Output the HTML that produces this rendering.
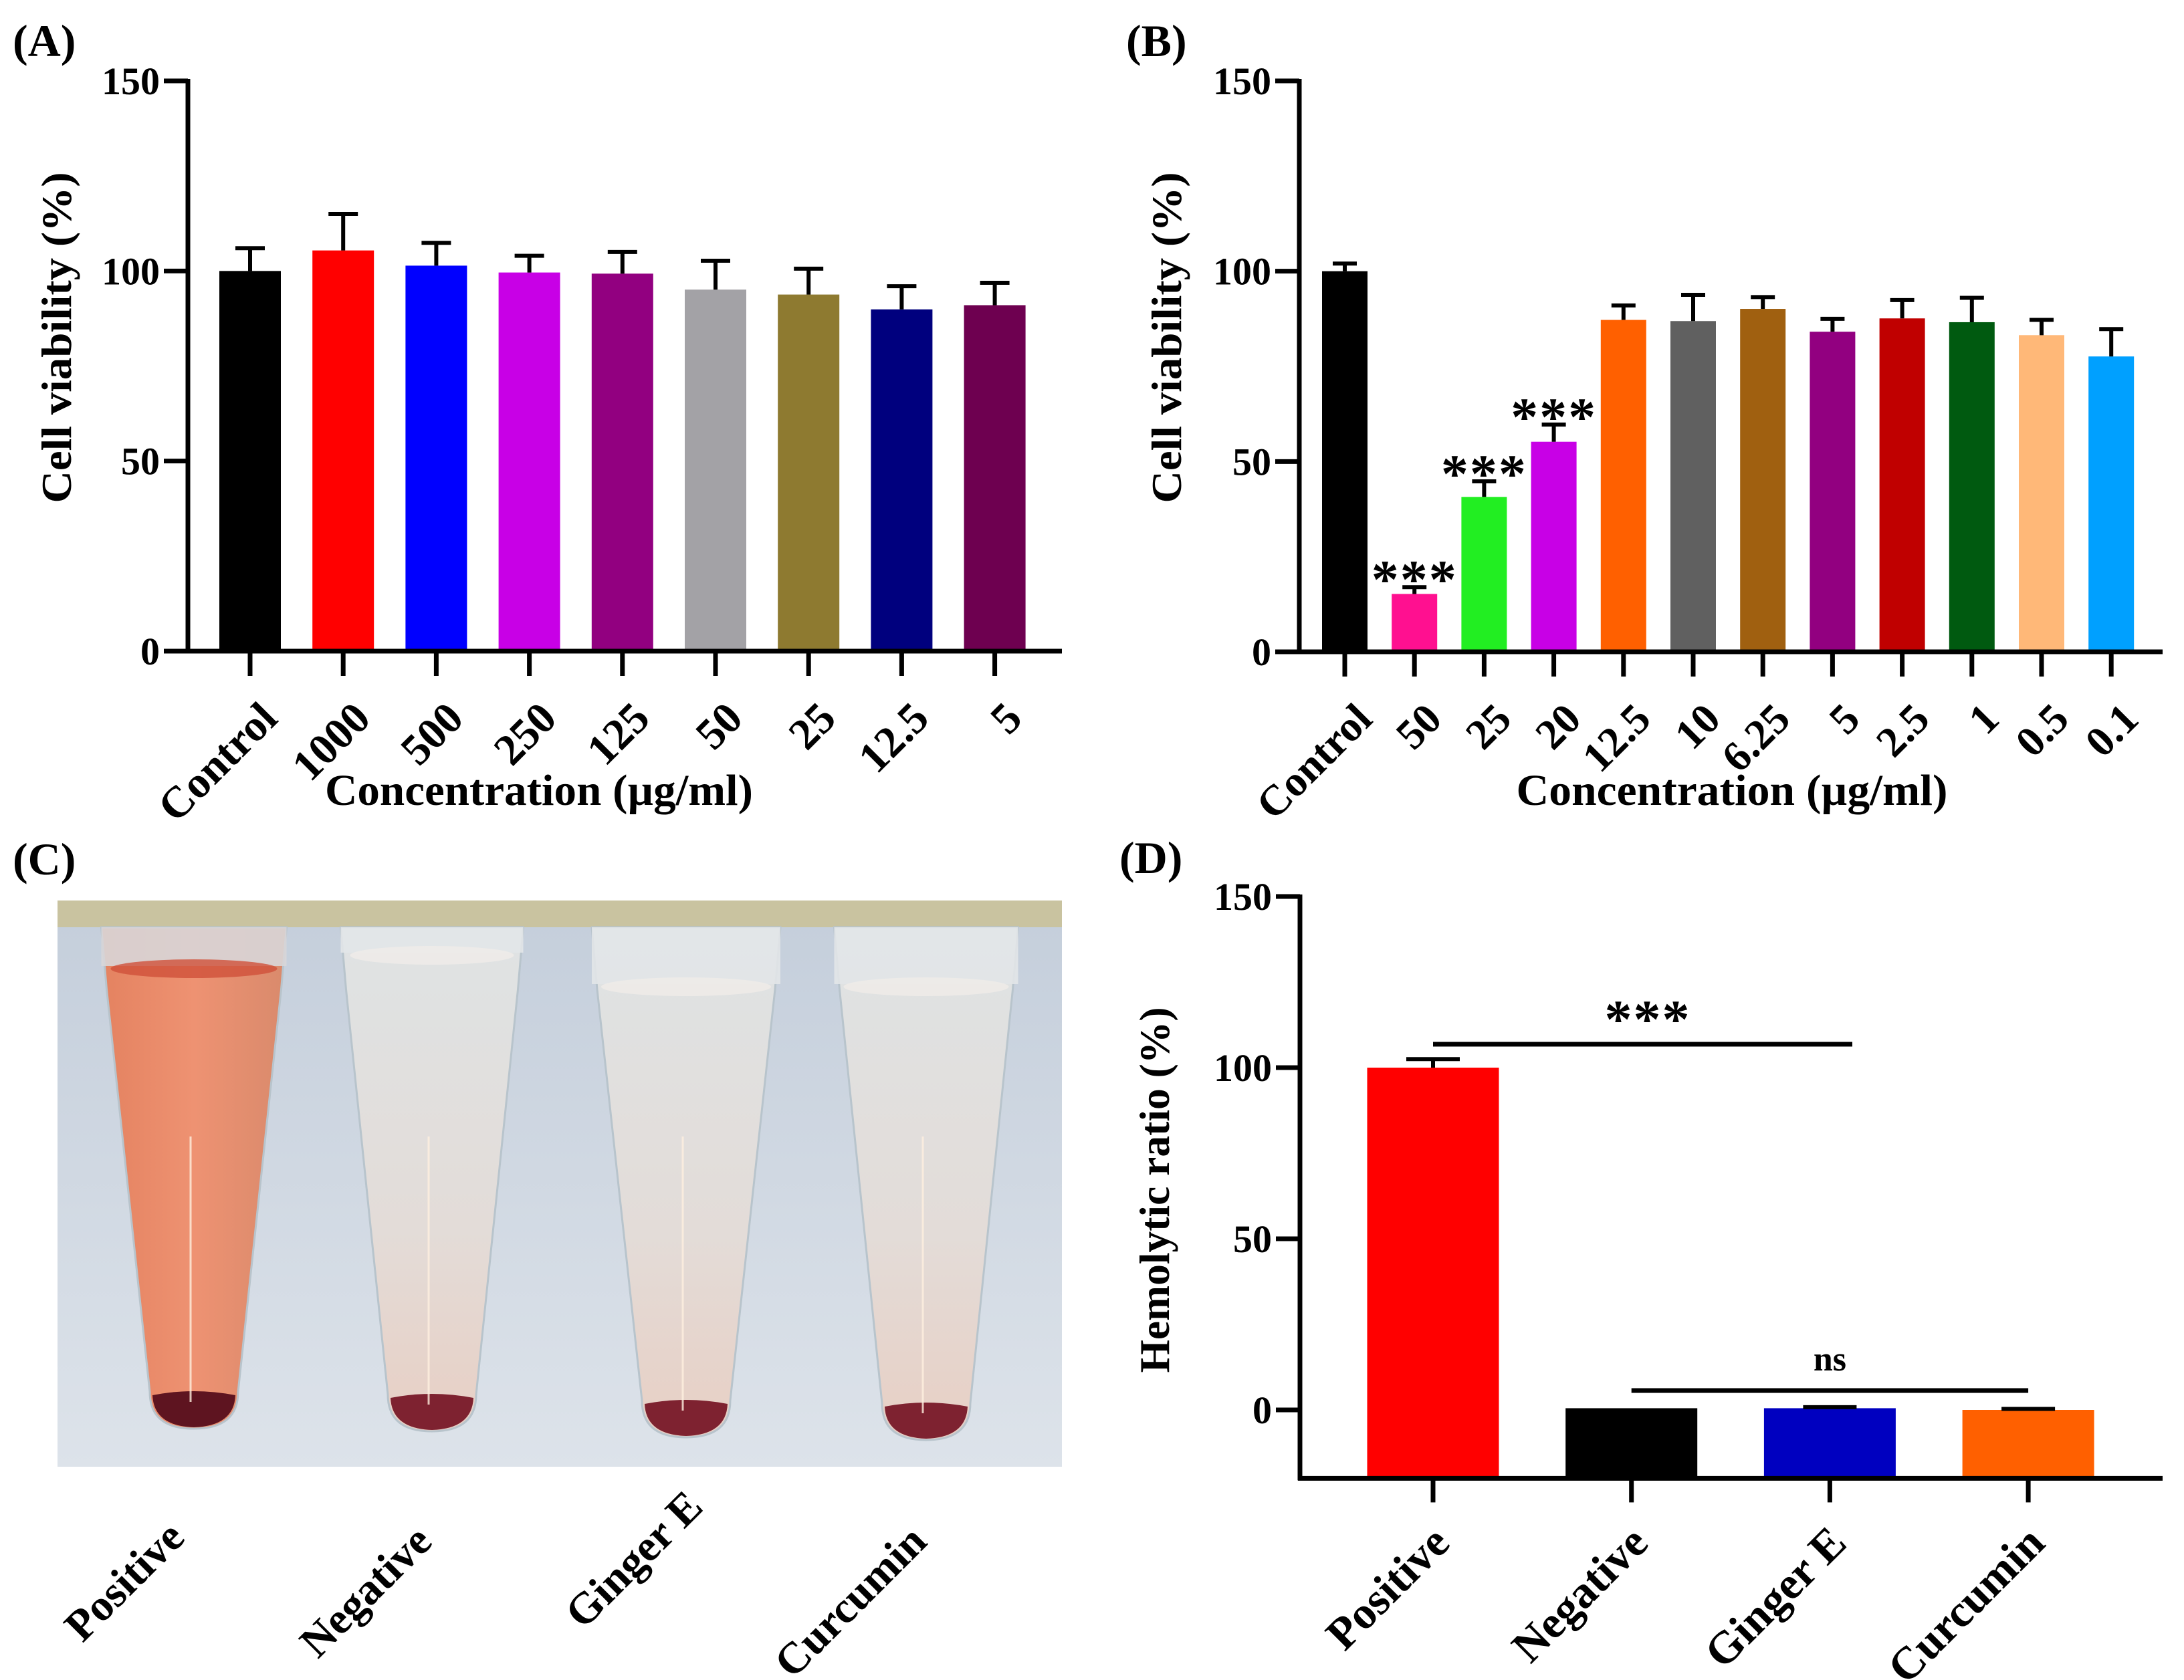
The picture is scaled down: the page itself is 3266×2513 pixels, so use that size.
<!DOCTYPE html>
<html><head><meta charset="utf-8"><style>
html,body{margin:0;padding:0;background:#fff}
svg{display:block}
text{font-family:"Liberation Serif",serif;font-weight:bold;fill:#000}
</style></head><body>
<svg id="fig" width="3266" height="2513" viewBox="0 0 3266 2513" xmlns="http://www.w3.org/2000/svg">
<defs>
<linearGradient id="bgGrad" x1="0" y1="0" x2="0" y2="1">
<stop offset="0" stop-color="#c4cedb"/><stop offset="1" stop-color="#dde3ea"/></linearGradient>
<linearGradient id="posGrad" x1="0" y1="0" x2="1" y2="0">
<stop offset="0" stop-color="#e48260"/><stop offset="0.5" stop-color="#ee9272"/><stop offset="1" stop-color="#d98a6c"/></linearGradient>
<linearGradient id="clearGrad" x1="0" y1="0" x2="0" y2="1">
<stop offset="0" stop-color="#dfe3e4"/><stop offset="0.6" stop-color="#e3dcd8"/><stop offset="1" stop-color="#e8cfc4"/></linearGradient>
</defs>
<g id="panelA"></g>
<g id="panelB"></g>
<g id="panelC"></g>
<g id="panelD"></g>
<text x="19" y="84" font-size="68">(A)</text>
<text x="1684" y="84" font-size="68">(B)</text>
<text x="19" y="1308" font-size="68">(C)</text>
<text x="1674" y="1306" font-size="68">(D)</text>
</svg>
<script>
// ---- Panel A data ----
const catsA = ["Control","1000","500","250","125","50","25","12.5","5"];
const valsA = [100,105.4,101.4,99.6,99.3,95.1,93.8,89.9,91];
const errA = [106,115,107.4,104,105,102.7,100.6,96,96.9];
const colorsA = ["#000000","#ff0000","#0000ff","#c800e6","#920080","#a3a2a6","#8e7a30","#00007e","#6e0050"];
// ---- Panel B data ----
const catsB = ["Control","50","25","20","12.5","10","6.25","5","2.5","1","0.5","0.1"];
const valsB = [100,15.2,40.7,55.2,87.2,86.9,90.1,84.1,87.6,86.6,83.2,77.6];
const errB = [102,17,44.8,59.7,91,93.8,93.2,87.5,92.4,93,87.2,84.8];
const sigB = ["","***","***","***","","","","","","","",""];
const colorsB = ["#000000","#ff1090","#22ee22","#c800e6","#ff6000","#606060","#a06010","#920080","#c00000","#005a10","#ffb878","#00a0ff"];
// ---- Panel D data ----
const catsD = ["Positive","Negative","Ginger E","Curcumin"];
const valsD = [100,0.5,0.5,0];
const errD = [102.5,0.5,0.8,0.3];
const colorsD = ["#ff0000","#000000","#0000c0","#ff6000"];
const ticksY = [0,50,100,150];
// ---- Panel C labels ----
const catsC = ["Positive","Negative","Ginger E","Curcumin"];

const NS="http://www.w3.org/2000/svg";
function mk(parent,tag,attrs,txt){const e=document.createElementNS(NS,tag);for(const k in attrs)e.setAttribute(k,attrs[k]);if(txt!==undefined)e.textContent=txt;parent.appendChild(e);return e;}

function chart(g,o){
  const yScale=v=>o.y0-(v-0)*(o.y0-o.y150)/150;
  const xScale=i=>o.cx0+i*o.step;
  const yBot=yScale(o.ymin);
  o.vals.forEach((v,i)=>{
    const base=o.fromFloor?yBot:yScale(0);
    const yt=yScale(v);
    const r=mk(g,"rect",{x:xScale(i)-o.bw/2,y:Math.min(yt,base),width:o.bw,height:Math.abs(base-yt),fill:o.colors[i]});
    
    
    const ye=yScale(o.errs[i]);
    if(o.errs[i]>v+0.2){
      const eb=mk(g,"path",{d:`M${xScale(i)},${yt} V${ye} M${xScale(i)-o.capw},${ye} H${xScale(i)+o.capw}`,stroke:"#000","stroke-width":6,fill:"none"});
      
      
    }
    if(o.sig&&o.sig[i]){
      const s=mk(g,"text",{x:xScale(i),y:ye+16,"font-size":82,"text-anchor":"middle","letter-spacing":"2"},o.sig[i]);
      
      
    }
    const tk=mk(g,"line",{x1:xScale(i),x2:xScale(i),y1:yBot,y2:yBot+o.tickLen,stroke:"#000","stroke-width":7});
    
    
    const lx=xScale(i)+o.lblDx, ly=yBot+o.lblDy;
    const t=mk(g,"text",{x:lx,y:ly,"font-size":o.lblSize,"text-anchor":"end",transform:`rotate(-45 ${lx} ${ly})`},o.cats[i]);
    
    
  });
  const ya=mk(g,"line",{x1:o.ax,x2:o.ax,y1:o.y150-3,y2:yBot+3,stroke:"#000","stroke-width":7});
  
  
  const xa=mk(g,"line",{x1:o.ax-3,x2:o.xEnd,y1:yBot,y2:yBot,stroke:"#000","stroke-width":7});
  
  
  ticksY.forEach(v=>{
    const y=yScale(v);
    const l=mk(g,"line",{x1:o.ax-36,x2:o.ax,y1:y,y2:y,stroke:"#000","stroke-width":7});
    
    
    const t=mk(g,"text",{x:o.ax-42,y:y+20,"font-size":58,"text-anchor":"end"},String(v));
    
    
  });
  const yl=mk(g,"text",{x:o.ylx,y:o.yly,"font-size":64,"text-anchor":"middle",transform:`rotate(-90 ${o.ylx} ${o.yly})`,textLength:o.ylLen,lengthAdjust:"spacingAndGlyphs"},o.ylabel);
  
  
  if(o.xlabel){
    const xl=mk(g,"text",{x:o.xlx,y:o.xly,"font-size":66,"text-anchor":"middle",textLength:o.xlLen,lengthAdjust:"spacingAndGlyphs"},o.xlabel);
    
    
  }
  return {xScale,yScale};
}

chart(document.getElementById('panelA'),{cats:catsA,vals:valsA,errs:errA,colors:colorsA,
  ax:281,y0:974,y150:121,ymin:0,cx0:374,step:139.2,bw:92,capw:22,xEnd:1588,tickLen:37,
  lblDx:44,lblDy:104,lblSize:66,ylx:106,yly:505,ylLen:495,ylabel:"Cell viability (%)",
  xlabel:"Concentration (\u00b5g/ml)",xlx:806,xly:1204,xlLen:640});

chart(document.getElementById('panelB'),{cats:catsB,vals:valsB,errs:errB,colors:colorsB,sig:sigB,
  ax:1943,y0:975,y150:121,ymin:0,cx0:2011,step:104.2,bw:68,capw:18,xEnd:3234,tickLen:37,
  lblDx:44,lblDy:104,lblSize:64,ylx:1766,yly:505,ylLen:495,ylabel:"Cell viability (%)",
  xlabel:"Concentration (\u00b5g/ml)",xlx:2590,xly:1204,xlLen:645});

const dAx=chart(document.getElementById('panelD'),{cats:catsD,vals:valsD,errs:errD,colors:colorsD,fromFloor:true,
  ax:1944,y0:2109,y150:1341,ymin:-20,cx0:2143,step:296.7,bw:197,capw:40,xEnd:3234,tickLen:36,
  lblDx:28,lblDy:100,lblSize:68,ylx:1748,yly:1780,ylLen:547,ylabel:"Hemolytic  ratio (%)"});

(function(){
  const g=document.getElementById('panelD');
  const l1=mk(g,"line",{x1:dAx.xScale(0),x2:2770,y1:1562,y2:1562,stroke:"#000","stroke-width":7});
  
  
  const s1=mk(g,"text",{x:2464,y:1552,"font-size":82,"text-anchor":"middle","letter-spacing":"2"},"***");
  
  
  const l2=mk(g,"line",{x1:dAx.xScale(1),x2:dAx.xScale(3),y1:2080,y2:2080,stroke:"#000","stroke-width":7});
  
  
  const s2=mk(g,"text",{x:dAx.xScale(2),y:2050,"font-size":52,"text-anchor":"middle"},"ns");
  
  
})();

(function(){
  const g=document.getElementById('panelC');
  const bg=mk(g,"rect",{x:86,y:1347,width:1502,height:847,fill:"url(#bgGrad)"});
  
  
  const band=mk(g,"rect",{x:86,y:1347,width:1502,height:40,fill:"#c9c3a0"});
  
  
  const tubes=[{c:290,bot:2137,w:277,pos:true},{c:646,bot:2141,w:273},{c:1026,bot:2150,w:282},{c:1385,bot:2154,w:275}];
  const lblP=[[279,2303],[649,2309],[1054,2257],[1389,2309]];
  tubes.forEach((t,i)=>{
    const hw=t.w/2, tw=66, top=1387;
    const d=`M${t.c-hw},${top} L${t.c+hw},${top} L${t.c+hw-8},1480 L${t.c+tw},${t.bot-55} Q${t.c+tw},${t.bot} ${t.c},${t.bot} Q${t.c-tw},${t.bot} ${t.c-tw},${t.bot-55} L${t.c-hw+8},1480 Z`;
    const tube=mk(g,"path",{d:d,fill:t.pos?"url(#posGrad)":"url(#clearGrad)",stroke:"#b8c4cc","stroke-width":3});
    
    
    const capH=t.pos?58:(i==1?38:85);
    const cap=mk(g,"rect",{x:t.c-hw,y:top,width:t.w,height:capH,fill:t.pos?"#d8d6d8":"#e2e6e8",opacity:0.9});
    
    
    const men=mk(g,"ellipse",{cx:t.c,cy:top+capH+4,rx:hw-14,ry:14,fill:t.pos?"#d0503a":"#f0ece8",opacity:0.8});
    
    
    const pel=mk(g,"path",{d:`M${t.c-tw+4},${t.bot-50} Q${t.c},${t.bot-62} ${t.c+tw-4},${t.bot-50} Q${t.c+tw-6},${t.bot-4} ${t.c},${t.bot-2} Q${t.c-tw+6},${t.bot-4} ${t.c-tw+4},${t.bot-50} Z`,fill:t.pos?"#5e1420":"#7e2230"});
    
    
    const glint=mk(g,"line",{x1:t.c-5,x2:t.c-5,y1:1700,y2:t.bot-40,stroke:"#fff0e0","stroke-width":3,opacity:0.8});
    
    
    const [lx,ly]=lblP[i];
    const tx=mk(g,"text",{x:lx,y:ly,"font-size":66,"text-anchor":"end",transform:`rotate(-45 ${lx} ${ly})`},catsC[i]);
    
    
  });
})();
</script>
</body></html>
